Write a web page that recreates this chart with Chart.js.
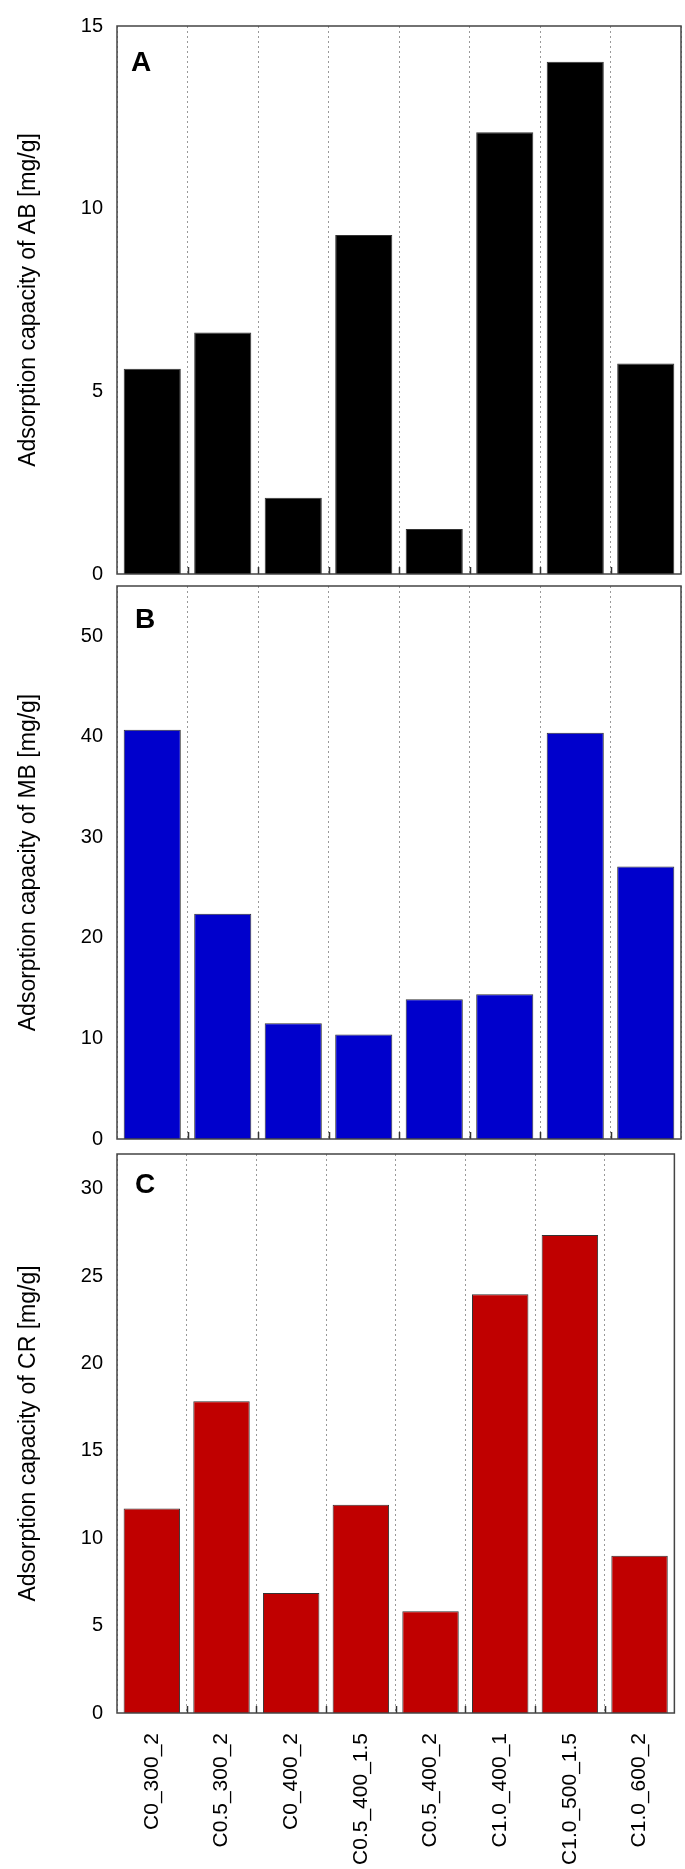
<!DOCTYPE html>
<html>
<head>
<meta charset="utf-8">
<script src="https://cdn.jsdelivr.net/npm/chart.js@4.4.1/dist/chart.umd.min.js"></script>
<style>
  body { margin: 0; background: #fff; width: 685px; height: 1869px; position: relative; overflow: hidden; }
  canvas { position: absolute; left: 0; }
</style>
</head>
<body>
<canvas id="chartA" width="685" height="600" style="top:0px"></canvas>
<canvas id="chartB" width="685" height="605" style="top:560px"></canvas>
<canvas id="chartC" width="685" height="741" style="top:1128px"></canvas>
<script>
// sample names (x categories)
const samples = ['C0_300_2', 'C0.5_300_2', 'C0_400_2', 'C0.5_400_1.5', 'C0.5_400_2', 'C1.0_400_1', 'C1.0_500_1.5', 'C1.0_600_2'];

// adsorption capacities, mg/g
const abCapacity = [5.62, 6.61, 2.09, 9.28, 1.23, 12.09, 14.02, 5.76];
const mbCapacity = [40.7, 22.4, 11.5, 10.4, 13.9, 14.4, 40.4, 27.1];
const crCapacity = [11.7, 17.85, 6.87, 11.92, 5.82, 23.97, 27.37, 9.0];

// y tick labels
const abTicks = [0, 5, 10, 15];
const mbTicks = [0, 10, 20, 30, 40, 50];
const crTicks = [0, 5, 10, 15, 20, 25, 30];

Chart.defaults.font.family = "'Liberation Sans', Arial, sans-serif";
Chart.defaults.color = '#000';

// plot frame, inner ticks at bottom, panel letter
const framePlugin = {
  id: 'frame',
  afterDatasetsDraw(chart, args, opts) {
    const { ctx, chartArea: a } = chart;
    const n = chart.data.labels.length;
    const step = (a.right - a.left) / n;
    ctx.save();
    ctx.strokeStyle = '#333';
    ctx.lineWidth = 1.5;
    ctx.beginPath();
    for (let k = 1; k < n; k++) {
      const x = Math.round(a.left + k * step) + 0.5;
      ctx.moveTo(x, a.bottom);
      ctx.lineTo(x, a.bottom - 7);
    }
    ctx.stroke();
    ctx.strokeStyle = '#444';
    ctx.lineWidth = 1.5;
    ctx.strokeRect(a.left, a.top, a.right - a.left, a.bottom - a.top);
    ctx.fillStyle = '#000';
    ctx.font = "bold 28px 'Liberation Sans', Arial, sans-serif";
    ctx.fillText(opts.letter, a.left + opts.dx, a.top + opts.dy);
    ctx.restore();
  }
};

function makePanel(id, values, color, yMax, yTicks, title, letter, pad, xHeight, letterPos) {
  const showLabels = xHeight > 0;
  return new Chart(document.getElementById(id), {
    type: 'bar',
    data: {
      labels: samples,
      datasets: [{
        data: values,
        backgroundColor: color,
        borderColor: '#333',
        borderWidth: 1,
        barPercentage: 0.81,
        categoryPercentage: 1
      }]
    },
    options: {
      responsive: false,
      animation: false,
      layout: { padding: pad },
      plugins: {
        legend: { display: false },
        tooltip: { enabled: false },
        frame: { letter: letter, dx: letterPos[0], dy: letterPos[1] }
      },
      scales: {
        x: {
          grid: { color: '#999', lineWidth: 1, drawTicks: false, offset: true },
          border: { display: false, dash: [2, 3] },
          ticks: {
            display: showLabels,
            autoSkip: false,
            minRotation: 90,
            maxRotation: 90,
            padding: 20,
            font: { size: 21 },
            color: '#000'
          },
          afterFit: s => { s.height = xHeight; }
        },
        y: {
          min: 0,
          max: yMax,
          afterBuildTicks: s => { s.ticks = yTicks.map(v => ({ value: v })); },
          afterFit: s => { s.width = 117; },
          grid: { display: false, drawTicks: false },
          border: { display: false },
          ticks: { padding: 14, font: { size: 20 }, color: '#000' },
          title: {
            display: true,
            text: title,
            font: { size: 23 },
            color: '#000',
            padding: { top: 15, bottom: 0 }
          }
        }
      }
    },
    plugins: [framePlugin]
  });
}

makePanel('chartA', abCapacity, '#000000', 15, abTicks, 'Adsorption capacity of AB [mg/g]', 'A',
  { top: 13, bottom: 23, left: 0, right: 4 }, 0, [14, 45]);
makePanel('chartB', mbCapacity, '#0000cc', 55, mbTicks, 'Adsorption capacity of MB [mg/g]', 'B',
  { top: 20, bottom: 20, left: 0, right: 4 }, 0, [18, 42]);
makePanel('chartC', crCapacity, '#c00000', 32, crTicks, 'Adsorption capacity of CR [mg/g]', 'C',
  { top: 20, bottom: 0, left: 0, right: 4 }, 156, [18, 39]);
</script>
</body>
</html>
